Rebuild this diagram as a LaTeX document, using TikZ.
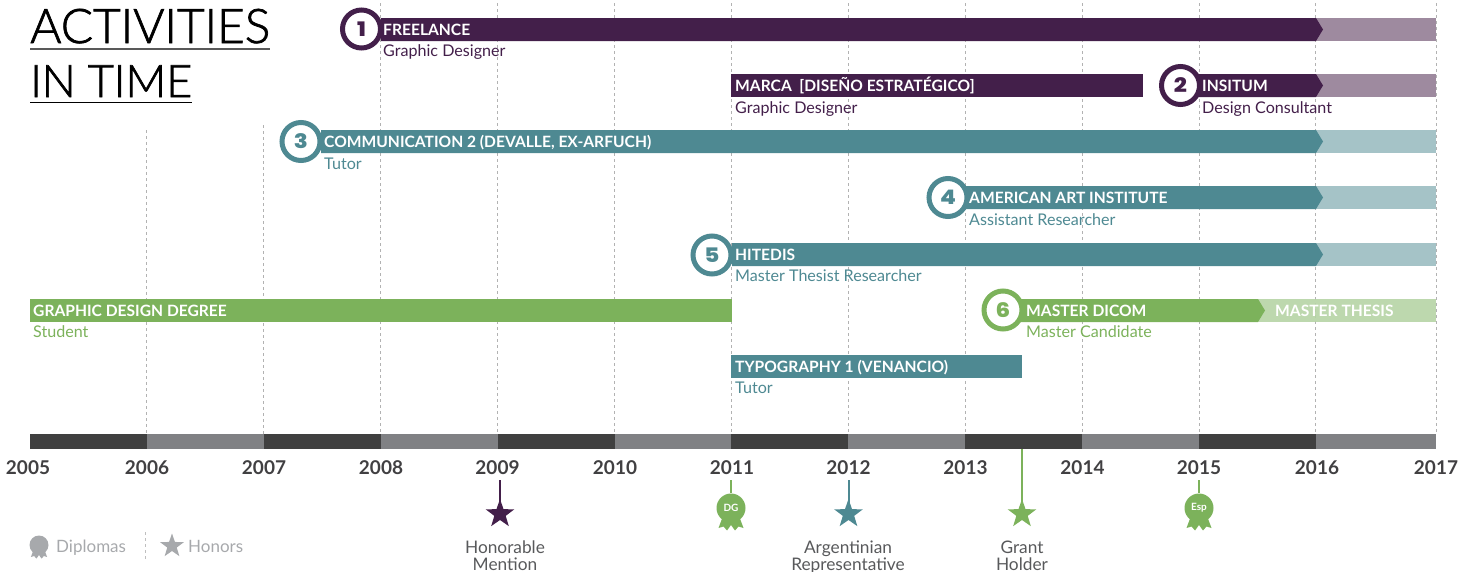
\documentclass[tikz,border=0pt]{standalone}
\usepackage{fontspec}
\setmainfont{Lato}
\newfontfamily\titlef[FakeBold=1.5]{Lato Light}
\newfontfamily\numf{Poppins ExtraBold}
\usetikzlibrary{shapes.geometric}
\definecolor{purp}{HTML}{431F4A}
\definecolor{purpl}{HTML}{947D95}
\definecolor{teal2}{HTML}{4E8992}
\definecolor{teall}{HTML}{9BBCC1}
\definecolor{gren}{HTML}{7CB25B}
\definecolor{grenl}{HTML}{B6D4A5}
\definecolor{axd}{HTML}{404040}
\definecolor{axg}{HTML}{808184}
\definecolor{yeart}{HTML}{414042}
\definecolor{lab}{HTML}{58595B}
\definecolor{leg}{HTML}{A7A9AC}
\tikzset{
  x=1pt,y=-1pt,
  gridline/.style={draw=black!30,line width=0.9pt,dash pattern=on 3pt off 3pt},
  bartitle/.style={anchor=base west,inner sep=0pt,text=white,font=\fontsize{15.6}{15.6}\selectfont\bfseries},
  barsub/.style={anchor=base west,inner sep=0pt,font=\fontsize{16.1}{16}\selectfont},
  ring/.style={circle,draw=#1,fill=white,line width=5pt,minimum size=38pt,inner sep=0pt,text=#1,font=\fontsize{20}{20}\numf},
  yearlab/.style={inner sep=0pt,text=yeart,font=\fontsize{19}{19}\selectfont\bfseries},
  note/.style={inner sep=0pt,align=center,text=lab,font=\fontsize{17.3}{17}\selectfont},
  legtext/.style={anchor=base west,inner sep=0pt,text=leg,font=\fontsize{17}{16}\selectfont},
  starnode/.style={star,star points=5,star point ratio=2.5,fill=#1,inner sep=0pt,minimum size=30pt},
  stem/.style={draw=#1,line width=2pt},
  badgedisc/.style={circle,fill=#1,inner sep=0pt,minimum size=29pt,text=white,font=\fontsize{10}{10}\selectfont\bfseries},
}
% badge ribbon tails around (x,y), with a scale
\newcommand{\tails}[4]{%
  \fill[#3,shift={(#1,#2)},scale=#4] (-8,8) -- (-12.5,20) -- (-7.5,18.5) -- (-4,22.5) -- (0,17) -- (4,22.5) -- (7.5,18.5) -- (12.5,20) -- (8,8) -- cycle;}
\newcommand{\arrowbar}[5]{% x0, chevron x, top, dark, light
  \fill[#5,opacity=.9] (#2,#3) -- (1436,#3) -- (1436,#3+23) -- (#2,#3+23) -- cycle;
  \fill[#4] (#1,#3) -- (#2,#3) -- (#2+7,#3+11.5) -- (#2,#3+23) -- (#1,#3+23) -- cycle;}
\begin{document}
\begin{tikzpicture}
\useasboundingbox (0,0) rectangle (1475,571);
% grid
\foreach \n/\t in {1/130,2/125,3/3,4/3,5/3,6/3,7/3,8/3,9/3,10/3,11/3}{
  \pgfmathsetmacro{\xx}{30+116.9*\n}
  \draw[gridline] (\xx,\t) -- (\xx,434);
}
\draw[gridline] (1436,3) -- (1436,434);
% bars
\arrowbar{381}{1316}{18}{purp}{purpl}
\fill[purp] (731,74) rectangle (1143,97);
\arrowbar{1199}{1316}{74}{purp}{purpl}
\arrowbar{321}{1316}{130}{teal2}{teall}
\arrowbar{966}{1316}{186}{teal2}{teall}
\arrowbar{732}{1316}{243}{teal2}{teall}
\fill[gren] (30,299) rectangle (732,322);
\arrowbar{1020}{1258}{299}{gren}{grenl}
\fill[teal2] (731,355) rectangle (1022,378);
% rings
\newcommand{\wide}[1]{\scalebox{1.15}[1]{#1}}
\node[ring=purp] (r1) at (361.5,29) {\wide{1}};
\node[ring=purp] (r2) at (1180.5,85.5) {\wide{2}};
\node[ring=teal2] (r3) at (301,141.5) {\wide{3}};
\node[ring=teal2] (r4) at (948,197.5) {\wide{4}};
\node[ring=teal2] (r5) at (712,255) {\wide{5}};
\node[ring=gren] (r6) at (1003,310) {\wide{6}};
% bar texts
\node[bartitle] (t1) at (383,35.5) {FREELANCE};
\node[barsub,text=purp] (s1) at (383,56) {Graphic Designer};
\node[bartitle] (t2) at (735,91.5) {MARCA\ \ [DISEÑO ESTRATÉGICO]};
\node[barsub,text=purp] (s2) at (735,113) {Graphic Designer};
\node[bartitle] (t3) at (1202,91.5) {INSITUM};
\node[barsub,text=purp] (s3) at (1202,113) {Design Consultant};
\node[bartitle] (t4) at (324,147.5) {COMMUNICATION 2 (DEVALLE, EX-ARFUCH)};
\node[barsub,text=teal2] (s4) at (324,169) {Tutor};
\node[bartitle] (t5) at (969,203.5) {AMERICAN ART INSTITUTE};
\node[barsub,text=teal2] (s5) at (969,225) {Assistant Researcher};
\node[bartitle] (t6) at (735,260.5) {HITEDIS};
\node[barsub,text=teal2] (s6) at (735,281) {Master Thesist Researcher};
\node[bartitle] (t7) at (33,316.5) {GRAPHIC DESIGN DEGREE};
\node[barsub,text=gren] (s7) at (33,337) {Student};
\node[bartitle] (t8) at (1026,316.5) {MASTER DICOM};
\node[barsub,text=gren] (s8) at (1026,337) {Master Candidate};
\node[bartitle] (t9) at (1275,316.5) {MASTER THESIS};
\node[bartitle] (t10) at (735,372.5) {TYPOGRAPHY 1 (VENANCIO)};
\node[barsub,text=teal2] (s10) at (735,393) {Tutor};
% title
\node[anchor=base west,inner sep=0pt,font=\fontsize{46}{46}\titlef] (title1) at (30,43) {\resizebox{240pt}{!}{ACTIVITIES}};
\node[anchor=base west,inner sep=0pt,font=\fontsize{46}{46}\titlef] (title2) at (30,97) {\resizebox{162pt}{!}{IN TIME}};
\fill[black!65] (30,48) rectangle (270,49.5);
\fill[black] (30,101.5) rectangle (192,102.7);
% axis
\foreach \n/\c in {0/axd,1/axg,2/axd,3/axg,4/axd,5/axg,6/axd,7/axg,8/axd,9/axg,10/axd,11/axg}{
  \pgfmathsetmacro{\xa}{30+116.9*\n}
  \pgfmathsetmacro{\xb}{\n==11 ? 1436 : 30+116.9*(\n+1)}
  \fill[\c] (\xa,434) rectangle (\xb,449);
}
% years
\foreach \xc/\yr in {28/2005,147/2006,264/2007,381/2008,497.5/2009,615/2010,732/2011,848.5/2012,965.5/2013,1082.5/2014,1199/2015,1317/2016,1436/2017}{
  \node[yearlab] (y\yr) at (\xc,468) {\yr};
}
% honours
\coordinate (a09) at (500,480);
\coordinate (a11) at (731,480);
\coordinate (a12) at (848.5,480);
\coordinate (a13) at (1022,449);
\coordinate (a15) at (1199,480);
\node[starnode=purp] (h09) at (500,514) {};
\node[starnode=teal2] (h12) at (848.5,514) {};
\node[starnode=gren] (h13) at (1022,514) {};
\draw[stem=purp] (a09) -- (h09.center);
\draw[stem=teal2] (a12) -- (h12.center);
\draw[stem=gren] (a13) -- (h13.center);
\tails{731}{508}{gren}{1}
\tails{1199}{508}{gren}{1}
\node[badgedisc=gren] (d11) at (731,508) {DG};
\node[badgedisc=gren] (d15) at (1199,508) {Esp};
\draw[stem=gren] (a11) -- (d11.north);
\draw[stem=gren] (a15) -- (d15.north);
\node[note,anchor=base] (n09) at (505,570) {Honorable\\Mention};
\node[note,anchor=base] (n12) at (848,570) {Argentinian\\Representative};
\node[note,anchor=base] (n13) at (1022,570) {Grant\\Holder};
% legend
\tails{39}{544}{leg}{0.65}
\node[circle,fill=leg,inner sep=0pt,minimum size=19pt] (legd) at (39,545) {};
\node[legtext] (legdt) at (56,552) {Diplomas};
\draw[gridline,draw=black!25] (145,532) -- (145,561);
\node[star,star points=5,star point ratio=2.5,fill=leg,inner sep=0pt,minimum size=25pt] (legs) at (172,546) {};
\node[legtext] (legst) at (188,552) {Honors};
\end{tikzpicture}
\end{document}
